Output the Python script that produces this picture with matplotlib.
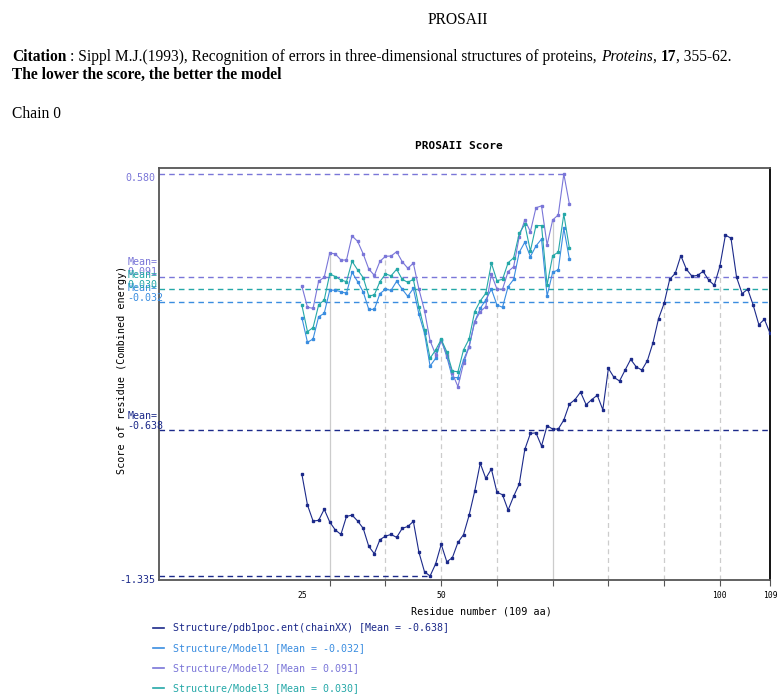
import numpy as np
import matplotlib
matplotlib.use("Agg")
import matplotlib.pyplot as plt

# residue numbers
res_struct = np.arange(25, 110)
res_models = np.arange(25, 74)

# per-residue score
score_struct = [-0.851, -0.997, -1.073, -1.070, -1.017, -1.078, -1.116, -1.137, -1.051, -1.045,
                -1.073, -1.108, -1.194, -1.229, -1.162, -1.145, -1.137, -1.151, -1.108, -1.099,
                -1.075, -1.222, -1.315, -1.335, -1.277, -1.184, -1.267, -1.248, -1.175, -1.138,
                -1.046, -0.932, -0.798, -0.870, -0.825, -0.936, -0.948, -1.021, -0.955, -0.897,
                -0.732, -0.656, -0.653, -0.716, -0.619, -0.635, -0.635, -0.592, -0.516, -0.495,
                -0.459, -0.519, -0.495, -0.474, -0.543, -0.346, -0.389, -0.406, -0.354, -0.303,
                -0.339, -0.354, -0.309, -0.224, -0.109, -0.036, 0.078, 0.107, 0.191, 0.126,
                0.093, 0.097, 0.116, 0.074, 0.050, 0.140, 0.289, 0.274, 0.088, 0.010,
                0.031, -0.046, -0.138, -0.112, -0.179]
score_model1 = [-0.105, -0.222, -0.206, -0.100, -0.084, 0.027, 0.026, 0.019, 0.012, 0.112,
                0.067, 0.018, -0.065, -0.065, 0.010, 0.031, 0.026, 0.069, 0.031, -0.003,
                0.035, -0.088, -0.179, -0.335, -0.298, -0.211, -0.290, -0.390, -0.390, -0.306,
                -0.243, -0.124, -0.060, -0.020, 0.032, -0.044, -0.055, 0.043, 0.078, 0.207,
                0.255, 0.186, 0.237, 0.270, -0.001, 0.112, 0.123, 0.321, 0.175]
score_model2 = [0.045, -0.055, -0.060, 0.069, 0.088, 0.204, 0.199, 0.170, 0.170, 0.285,
                0.259, 0.199, 0.127, 0.097, 0.164, 0.188, 0.189, 0.210, 0.162, 0.131,
                0.155, 0.031, -0.071, -0.214, -0.281, -0.211, -0.282, -0.370, -0.433, -0.322,
                -0.243, -0.124, -0.076, -0.052, 0.102, 0.032, 0.031, 0.115, 0.138, 0.281,
                0.361, 0.305, 0.419, 0.428, 0.242, 0.361, 0.385, 0.580, 0.437]
score_model3 = [-0.046, -0.171, -0.152, -0.044, -0.020, 0.104, 0.091, 0.075, 0.067, 0.164,
                0.123, 0.086, -0.001, 0.004, 0.067, 0.104, 0.095, 0.126, 0.078, 0.064,
                0.078, -0.055, -0.163, -0.298, -0.258, -0.208, -0.267, -0.359, -0.362, -0.258,
                -0.206, -0.076, -0.025, 0.012, 0.155, 0.072, 0.078, 0.157, 0.181, 0.297,
                0.340, 0.213, 0.334, 0.334, 0.051, 0.191, 0.207, 0.388, 0.226]

names = ["Structure/pdb1poc.ent(chainXX)", "Structure/Model1", "Structure/Model2", "Structure/Model3"]
means = [-0.638, -0.032, 0.091, 0.030]
colors = ["#1c2a8a", "#3a8de0", "#7a76d8", "#25a8a8"]
x_ticks = [25, 30, 40, 50, 60, 70, 80, 90, 100, 109]
x_ticklabels = ["25", "", "", "50", "", "", "", "", "100", "109"]
x_gridticks = [30, 40, 50, 60, 70, 80, 90, 100]

xs = [res_struct, res_models, res_models, res_models]
ys = [score_struct, score_model1, score_model2, score_model3]

MONO = "DejaVu Sans Mono"
SERIF = "Liberation Serif"

fig = plt.figure(figsize=(7.78, 6.95), dpi=100)
W, H = 778, 695

# ---- page header (html-like text) ----
hs = 11.2
fig.text(458 / W, 1 - 20 / H, "PROSAII", family=SERIF, fontsize=hs, ha="center", va="center")

renderer = fig.canvas.get_renderer()
space_px = hs * 0.25 * 100 / 72

def put_pieces(pieces, x_px, y_px):
    x = x_px
    for s, weight, style, gap in pieces:
        t = fig.text(x / W, 1 - y_px / H, s, family=SERIF, fontsize=hs,
                     fontweight=weight, fontstyle=style, va="baseline", ha="left")
        bb = t.get_window_extent(renderer)
        x += bb.width + (space_px if gap else 0)

put_pieces([("Citation", "bold", "normal", True),
            (": Sippl M.J.(1993), Recognition of errors in three-dimensional structures of proteins,",
             "normal", "normal", True),
            ("Proteins", "normal", "italic", False),
            (",", "normal", "normal", True),
            ("17", "bold", "normal", False),
            (", 355-62.", "normal", "normal", False)], 12, 61)
fig.text(12 / W, 1 - 79 / H, "The lower the score, the better the model", family=SERIF,
         fontsize=hs, fontweight="bold", va="baseline")
fig.text(12 / W, 1 - 118 / H, "Chain 0", family=SERIF, fontsize=hs, va="baseline")

# ---- chart ----
ax = fig.add_axes([158.7 / W, 1 - 580 / H, (770 - 158.7) / W, (580 - 168.3) / H])
ymin, ymax = -1.354, 0.607
xmin, xmax = -0.7, 109
ax.set_xlim(xmin, xmax)
ax.set_ylim(ymin, ymax)

# vertical drop lines at every 10 residues
for t in x_gridticks:
    tops = [y[list(x).index(t)] for x, y in zip(xs, ys) if t in list(x)]
    ls = "-" if t in (30, 70) else (0, (4, 3))
    ax.vlines(t, ymin, max(tops), colors="#cccccc", linestyles=ls, lw=0.9, zorder=1)

# mean lines
for m, c in zip(means, colors):
    ax.axhline(m, color=c, ls=(0, (4, 3)), lw=1.0, zorder=2)

# max / min lines
i_max = int(np.argmax(score_model2))
ax.hlines(score_model2[i_max], xmin, res_models[i_max], colors=colors[2], linestyles=(0, (4, 3)), lw=1.0)
i_min = int(np.argmin(score_struct))
ax.hlines(score_struct[i_min], xmin, res_struct[i_min], colors=colors[0], linestyles=(0, (4, 3)), lw=1.0)

for x, y, c in zip(xs, ys, colors):
    ax.plot(x, y, color=c, lw=0.8, marker="s", markersize=1.8, zorder=3)

for sp in ax.spines.values():
    sp.set_color("#555555")
    sp.set_linewidth(1.3)
ax.spines["right"].set_color("black")

ax.set_yticks([])
ax.set_xticks(x_ticks)
ax.set_xticklabels(x_ticklabels, family=MONO, fontsize=5.8)
ax.tick_params(axis="x", length=4, color="#555555", direction="out", pad=4)
ax.xaxis.get_major_ticks()[0].tick1line.set_visible(False)

# left side labels
ytr = ax.get_yaxis_transform()
ax.text(-0.006, score_model2[i_max] - 0.02, "%.3f" % score_model2[i_max], transform=ytr,
        ha="right", va="center", family=MONO, fontsize=7.2, color=colors[2])
ax.text(-0.006, score_struct[i_min] - 0.02, "%.3f" % score_struct[i_min], transform=ytr,
        ha="right", va="center", family=MONO, fontsize=7.2, color=colors[0])
for m, c in zip(means, colors):
    ax.text(-0.0507, m - 0.004, "Mean=\n%.3f" % m, transform=ytr, ha="left", va="bottom",
            family=MONO, fontsize=7.2, color=c, linespacing=1.0)

fig.text(459 / W, 1 - 146 / H, "PROSAII Score", family=MONO, fontsize=8, fontweight="bold",
         ha="center", va="center")
fig.text(122 / W, 1 - 370 / H, "Score of residue (Combined energy)", family=MONO, fontsize=7.3,
         rotation=90, ha="center", va="center")
fig.text(481 / W, 1 - 612 / H, "Residue number (109 aa)", family=MONO, fontsize=7.3,
         ha="center", va="center")

# legend
for i, (n, m, c) in enumerate(zip(names, means, colors)):
    yy = 1 - (628 + 20 * i) / H
    fig.add_artist(plt.Line2D([153 / W, 164 / W], [yy, yy], color=c, lw=1.2))
    fig.text(173 / W, yy, "%s [Mean = %.3f]" % (n, m), family=MONO, fontsize=7.2,
             color=c, va="center")

fig.savefig("out.png", dpi=100)
